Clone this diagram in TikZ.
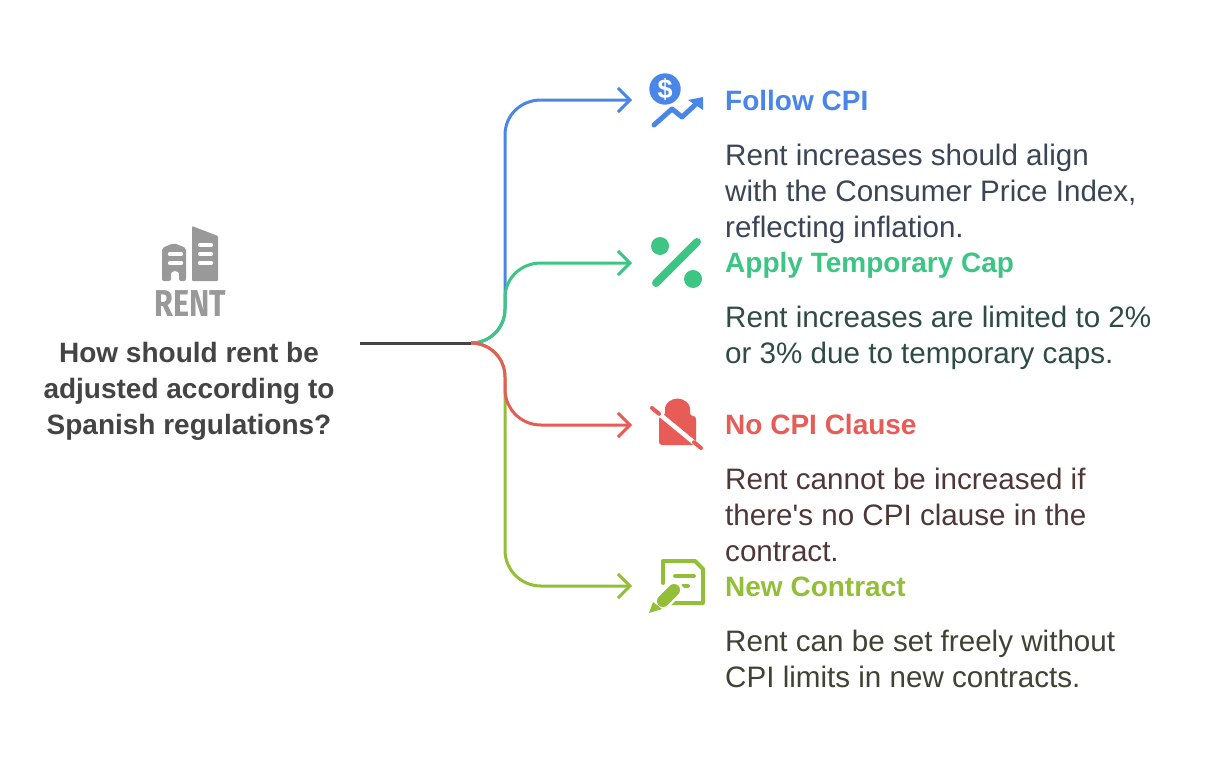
\documentclass[tikz,border=0pt]{standalone}
\usepackage{fontspec}
\setmainfont{Liberation Sans}
\newfontfamily\plainfont{Liberation Sans}
\newfontfamily\rentfont{Fira Sans}
\usetikzlibrary{arrows.meta}
\definecolor{cblue}{HTML}{4A86E8}
\definecolor{cgreen}{HTML}{3CC583}
\definecolor{cred}{HTML}{E85C57}
\definecolor{colive}{HTML}{93BF38}
\definecolor{cdark}{HTML}{444444}
\definecolor{cgray}{HTML}{999999}
\definecolor{tblue}{HTML}{3A4555}
\definecolor{tgreen}{HTML}{2F4B45}
\definecolor{tred}{HTML}{503737}
\definecolor{tolive}{HTML}{3F4334}
\tikzset{
  head/.style={anchor=base west,inner sep=0pt,font=\fontsize{28}{36}\selectfont\bfseries},
  body/.style={anchor=north west,inner sep=0pt,align=left,font=\plainfont\fontsize{29.6}{36}\selectfont},
  link/.style={line width=3pt,-{Straight Barb[length=12pt,width=24pt,line width=3pt]}},
  pin/.style={inner sep=0pt,minimum size=0pt},
}
\begin{document}
\begin{tikzpicture}[x=1pt,y=-1pt]
\useasboundingbox (0,0) rectangle (1209,768);
\fill[white] (0,0) rectangle (1209,768);
% anchors
\coordinate (start) at (360,343);
\coordinate (hub) at (471,343);
\coordinate (e1) at (632,100);
\coordinate (e2) at (632,263);
\coordinate (e3) at (632,425);
\coordinate (e4) at (632,586);
% connectors
\draw[link,cblue] (hub) .. controls (490,343) and (505,328) .. (505,309) -- (505,135) .. controls (505,115) and (521,100) .. (541,100) -- (e1);
\draw[link,colive] (hub) .. controls (490,343) and (505,358) .. (505,377) -- (505,550) .. controls (505,570) and (521,586) .. (541,586) -- (e4);
\draw[link,cgreen] (hub) .. controls (490,343) and (505,328) .. (505,309) -- (505,298) .. controls (505,278) and (521,263) .. (541,263) -- (e2);
\draw[link,cred] (hub) .. controls (490,343) and (505,358) .. (505,377) -- (505,389) .. controls (505,409) and (521,425) .. (541,425) -- (e3);
\draw[line width=3pt,cdark] (start) -- (hub);
% building icon
\fill[cgray,rounded corners=2pt] (162,281) -- (162,248) -- (174,243) -- (186,248) -- (186,281) -- (179,281) -- (179,275) arc (0:-180:4) -- (171,281) -- cycle;
\fill[cgray,rounded corners=1pt] (192,281) -- (192,226) -- (218,236) -- (218,281) -- cycle;
\foreach \yy in {254,263} \draw[white,line width=3.2pt,line cap=round] (169.5,\yy) -- (181.5,\yy);
\foreach \yy in {245,254,263} \draw[white,line width=3.2pt,line cap=round] (199.5,\yy) -- (211.5,\yy);
\node[pin,text=cgray] (renticon) at (190.5,303.5) {\scalebox{.9}[1.1]{\rentfont\fontsize{34}{34}\selectfont\bfseries RENT}};
% title
\node[anchor=north,inner sep=0pt,align=center,text=cdark,font=\fontsize{28}{36}\selectfont\bfseries] (title) at (189,336.8) {\strut How should rent be\\adjusted according to\\Spanish regulations?};
% blue icon
\fill[cblue] (665,89) circle (15.7);
\node[pin,text=white] (dollar) at (665,89) {\fontsize{27}{27}\selectfont\bfseries \$};
\draw[cblue,line width=5pt,line cap=round,line join=round] (654,125) -- (672,109) -- (682,117) -- (695,105);
\fill[cblue] (688,100) -- (703,97) -- (703,110) -- cycle;
% green icon
\fill[cgreen] (660,246) circle (9);
\fill[cgreen] (693,279) circle (9);
\draw[cgreen,line width=8pt,line cap=round] (656,283) -- (697,242);
% red icon
\fill[cred,rounded corners=3pt] (659,445) -- (659,416) -- (665,416) -- (665,411) arc (180:360:12.5) -- (690,416) -- (696,416) -- (696,445) -- cycle;
\draw[white,line width=4.5pt] (660,414.6) -- (696,444.2);
\draw[cred,line width=4pt,line cap=round] (652,408) -- (659,413.8);
\draw[cred,line width=4pt,line cap=round] (694,442.2) -- (701,448);
% olive icon
\draw[colive,line width=4pt,line join=round,line cap=round] (663,583) -- (663,561) -- (695,561) -- (703,569) -- (703,603) -- (670,603);
\draw[colive,line width=4pt,line cap=round] (675,576) -- (694,576);
\draw[colive,line width=4pt,line cap=round] (683,586) -- (688,586);
\draw[white,line width=17pt] (680,584) -- (656,608);
\draw[colive,line width=12pt,line cap=round] (674,590) -- (663,601);
\fill[colive] (653,602) -- (662,609) -- (649,613) -- cycle;
% texts
\node[head,text=cblue] (h1) at (725,110) {Follow CPI};
\node[body,text=tblue] (b1) at (725,139.8) {\strut Rent increases should align\\with the Consumer Price Index,\\reflecting inflation.};
\node[head,text=cgreen] (h2) at (725,272) {Apply Temporary Cap};
\node[body,text=tgreen] (b2) at (725,301.8) {\strut Rent increases are limited to 2\%\\or 3\% due to temporary caps.};
\node[head,text=cred] (h3) at (725,434) {No CPI Clause};
\node[body,text=tred] (b3) at (725,463.8) {\strut Rent cannot be increased if\\there's no CPI clause in the\\contract.};
\node[head,text=colive] (h4) at (725,596) {New Contract};
\node[body,text=tolive] (b4) at (725,625.8) {\strut Rent can be set freely without\\CPI limits in new contracts.};
\end{tikzpicture}
\end{document}
